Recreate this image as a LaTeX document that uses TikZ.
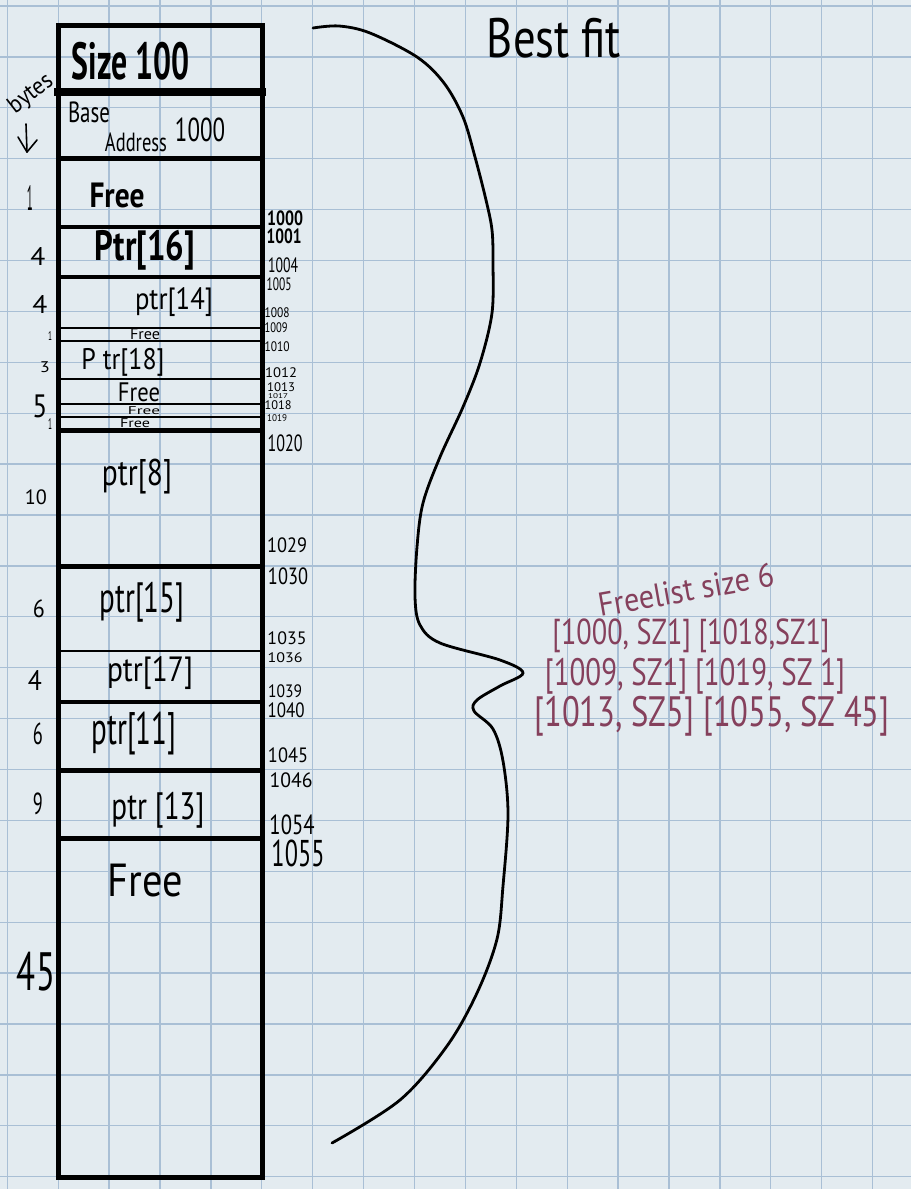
\documentclass[tikz,border=0pt]{standalone}
\usepackage{fontspec}
\setmainfont{PT Sans}
\definecolor{paper}{HTML}{E3EBF0}
\definecolor{gridc}{HTML}{A9BFD5}
\definecolor{plum}{HTML}{85405C}
\newcommand{\hw}[3]{\resizebox*{#1pt}{#2pt}{#3}}
\begin{document}
\begin{tikzpicture}[x=1pt,y=-1pt,
  lab/.style={inner sep=0pt,outer sep=0pt,anchor=center},
  ink/.style={draw=black,line cap=rect},
  gridline/.style={draw=gridc,line width=1.3pt},
  fl/.style={lab,text=plum}]
\useasboundingbox (0,0) rectangle (911,1189);
\fill[paper] (0,0) rectangle (911,1189);
\foreach \i in {0,...,17} \draw[gridline] ({7.3+50.9*\i},0) -- ({7.3+50.9*\i},1189);
\foreach \i in {0,...,23} \draw[gridline] (0,{6+50.9*\i}) -- (911,{6+50.9*\i});

% memory column
\draw[ink,line width=5pt] (58,25) rectangle (262,1177);
\foreach \yy/\w in {92/8,158/5,227/4,277/4,328/2.5,341/2.5,379/2.5,404/2.5,417/2.5,430/5,566/5,651/2.5,702/4,770/5,838/5}
  \draw[ink,line width=\w pt] (58,\yy) -- (262,\yy);

% cell labels
\node[lab] (sz) at (131,61) {\hw{118}{38}{\bfseries Size 100}};
\node[lab] (base) at (89,112) {\hw{42}{21}{Base}};
\node[lab] (addr) at (136,142) {\hw{62}{19}{Address}};
\node[lab] (b1000) at (200,130) {\hw{50}{24}{1000}};
\node[lab] (free1) at (117,195) {\hw{55}{25}{\bfseries Free}};
\node[lab] (p16) at (145,250) {\hw{100}{40}{\bfseries Ptr[16]}};
\node[lab] (p14) at (174,302) {\hw{78}{29}{ptr[14]}};
\node[lab] (free2) at (145,334) {\hw{30}{11}{Free}};
\node[lab] (p18) at (123,362) {\hw{83}{28}{P tr[18]}};
\node[lab] (free3) at (139,392) {\hw{42}{19}{Free}};
\node[lab] (free4) at (144,411) {\hw{32}{8}{Free}};
\node[lab] (free5) at (135,423) {\hw{30}{9}{Free}};
\node[lab] (p8) at (137,477) {\hw{70}{35}{ptr[8]}};
\node[lab] (p15) at (142,602) {\hw{85}{40}{ptr[15]}};
\node[lab] (p17) at (150,673) {\hw{86}{33}{ptr[17]}};
\node[lab] (p11) at (134,733) {\hw{85}{43}{ptr[11]}};
\node[lab] (p13) at (158,810) {\hw{93}{36}{ptr [13]}};
\node[lab] (free6) at (145,881) {\hw{75}{33}{Free}};

% byte sizes
\node[lab,rotate=38] (bytes) at (31,94) {\hw{50}{22}{bytes}};
\coordinate (arrS) at (26,124);
\coordinate (arrE) at (27,152);
\draw[ink,line width=1.6pt,line cap=round] (arrS) -- (arrE);
\draw[ink,line width=1.6pt,line cap=round,line join=round] (18,137) -- (arrE) -- (37,140);
\node[lab] (s1) at (30,198) {\hw{6}{25}{1}};
\node[lab] (s4a) at (38,256) {\hw{15}{18}{4}};
\node[lab] (s4b) at (40,304) {\hw{15}{18}{4}};
\node[lab] (s1b) at (50,336) {\hw{4}{9}{1}};
\node[lab] (s3) at (45,367) {\hw{10}{11}{3}};
\node[lab] (s5) at (40,406) {\hw{15}{23}{5}};
\node[lab] (s1c) at (50,424) {\hw{4}{11}{1}};
\node[lab] (s10) at (36,497) {\hw{22}{15}{10}};
\node[lab] (s6a) at (39,609) {\hw{12}{18}{6}};
\node[lab] (s4c) at (35,680) {\hw{14}{20}{4}};
\node[lab] (s6b) at (38,734) {\hw{10}{22}{6}};
\node[lab] (s9) at (38,804) {\hw{10}{22}{9}};
\node[lab] (s45) at (36,972) {\hw{38}{39}{45}};

% addresses
\node[lab] (a1000) at (285,218) {\hw{36}{15}{\bfseries 1000}};
\node[lab] (a1001) at (284,236) {\hw{35}{15}{\bfseries 1001}};
\node[lab] (a1004) at (283,265) {\hw{30}{15}{1004}};
\node[lab] (a1005) at (279,284) {\hw{25}{13}{1005}};
\node[lab] (a1008) at (277,313) {\hw{25}{10}{1008}};
\node[lab] (a1009) at (276,328) {\hw{23}{10}{1009}};
\node[lab] (a1010) at (277,347) {\hw{25}{10}{1010}};
\node[lab] (a1012) at (281,373) {\hw{32}{10}{1012}};
\node[lab] (a1013) at (281,387.5) {\hw{28}{9}{1013}};
\node[lab] (a1017) at (278,396.5) {\hw{20}{5}{1017}};
\node[lab] (a1018) at (278,405.5) {\hw{27}{9}{1018}};
\node[lab] (a1019) at (277,418) {\hw{20}{7}{1019}};
\node[lab] (a1020) at (285,443) {\hw{35}{17}{1020}};
\node[lab] (a1029) at (287,545) {\hw{40}{15}{1029}};
\node[lab] (a1030) at (288,576) {\hw{40}{17}{1030}};
\node[lab] (a1035) at (287,638) {\hw{39}{13}{1035}};
\node[lab] (a1036) at (285,658) {\hw{35}{10}{1036}};
\node[lab] (a1039) at (285,691) {\hw{34}{13}{1039}};
\node[lab] (a1040) at (286,710) {\hw{37}{15}{1040}};
\node[lab] (a1045) at (288,755) {\hw{40}{15}{1045}};
\node[lab] (a1046) at (291,780) {\hw{43}{15}{1046}};
\node[lab] (a1054) at (292,825) {\hw{45}{20}{1054}};
\node[lab] (a1055) at (298,853) {\hw{53}{27}{1055}};

% brace
\draw[ink,line width=2.8pt,line cap=round] plot[smooth,tension=0.55] coordinates {
 (313,28) (339,26) (370,33) (417,57) (444,83) (463,117) (475,157) (486,200)
 (492,230) (493,263) (492,313) (480,363) (463,407) (440,457) (423,503)
 (417,547) (415,597) (420,625) (440,643) (500,660) (523,673) (500,686)
 (477,700) (474,711) (493,729) (503,761) (508,814) (503,886) (497,939)
 (477,993) (447,1046) (400,1100) (332,1143)};

% title
\node[lab] (title) at (554,38) {\hw{134}{40}{Best fit}};

% freelist
\node[fl,rotate=10] (fltitle) at (686,590) {\hw{178}{24}{Freelist size 6}};
\node[fl] (fl1) at (691,636) {\hw{277}{34}{[1000, SZ1] [1018,SZ1]}};
\node[fl] (fl2) at (695,676) {\hw{300}{36}{[1009, SZ1] [1019, SZ 1]}};
\node[fl] (fl3) at (712,716) {\hw{355}{40}{[1013, SZ5] [1055, SZ 45]}};
\end{tikzpicture}
\end{document}
